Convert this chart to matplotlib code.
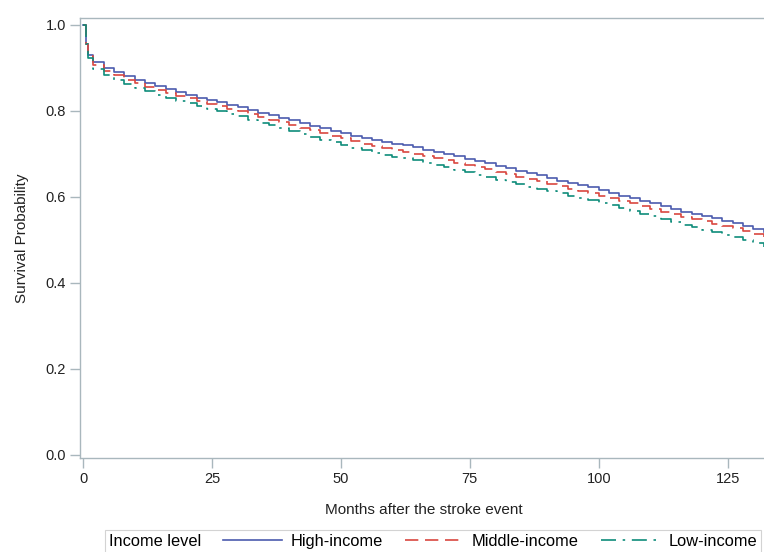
import matplotlib
matplotlib.use('Agg')
import matplotlib.pyplot as plt

plt.rcParams['font.family'] = ['Liberation Sans', 'DejaVu Sans']

# months since stroke event
months = [0, 0.5, 1, 2, 4, 6, 8, 10, 12, 14, 16, 18, 20, 22, 24, 26, 28, 30,
          32, 34, 36, 38, 40, 42, 44, 46, 48, 50, 52, 54, 56, 58, 60, 62, 64,
          66, 68, 70, 72, 74, 76, 78, 80, 82, 84, 86, 88, 90, 92, 94, 96, 98,
          100, 102, 104, 106, 108, 110, 112, 114, 116, 118, 120, 122, 124, 126,
          128, 130, 132]

high_income = [1.000, 0.956, 0.930, 0.913, 0.900, 0.890, 0.880, 0.872, 0.864,
               0.857, 0.850, 0.843, 0.837, 0.831, 0.825, 0.820, 0.814, 0.808,
               0.802, 0.796, 0.790, 0.784, 0.778, 0.772, 0.766, 0.760, 0.754,
               0.748, 0.742, 0.737, 0.732, 0.728, 0.724, 0.720, 0.715, 0.710,
               0.705, 0.700, 0.694, 0.689, 0.684, 0.678, 0.672, 0.667, 0.661,
               0.656, 0.650, 0.644, 0.638, 0.632, 0.627, 0.622, 0.616, 0.610,
               0.603, 0.597, 0.591, 0.585, 0.578, 0.572, 0.566, 0.560, 0.555,
               0.550, 0.545, 0.540, 0.533, 0.526, 0.519]

middle_income = [1.000, 0.956, 0.928, 0.907, 0.893, 0.883, 0.873, 0.864, 0.856,
                 0.849, 0.842, 0.835, 0.829, 0.822, 0.816, 0.811, 0.805, 0.799,
                 0.793, 0.786, 0.780, 0.774, 0.767, 0.761, 0.755, 0.749, 0.742,
                 0.736, 0.730, 0.724, 0.718, 0.713, 0.709, 0.705, 0.700, 0.695,
                 0.690, 0.685, 0.680, 0.675, 0.670, 0.664, 0.658, 0.653, 0.647,
                 0.642, 0.636, 0.630, 0.625, 0.619, 0.614, 0.609, 0.603, 0.597,
                 0.591, 0.585, 0.579, 0.573, 0.566, 0.560, 0.554, 0.548, 0.543,
                 0.538, 0.533, 0.528, 0.521, 0.514, 0.507]

low_income = [1.000, 0.956, 0.922, 0.898, 0.884, 0.873, 0.863, 0.854, 0.846,
              0.838, 0.831, 0.824, 0.818, 0.811, 0.805, 0.800, 0.793, 0.787,
              0.780, 0.773, 0.767, 0.760, 0.753, 0.747, 0.740, 0.733, 0.727,
              0.720, 0.714, 0.708, 0.702, 0.697, 0.693, 0.690, 0.685, 0.680,
              0.674, 0.669, 0.663, 0.657, 0.652, 0.646, 0.640, 0.635, 0.629,
              0.624, 0.618, 0.613, 0.608, 0.603, 0.598, 0.593, 0.587, 0.581,
              0.575, 0.568, 0.561, 0.555, 0.548, 0.542, 0.535, 0.529, 0.523,
              0.518, 0.512, 0.506, 0.499, 0.492, 0.484]

labels = ['High-income', 'Middle-income', 'Low-income']
colors = ['#4B5BAE', '#D9473F', '#0E8C7A']
styles = ['-', (0, (8, 4)), (0, (9, 4, 1.5, 4))]
xticks = [0, 25, 50, 75, 100, 125]
yticks = [0.0, 0.2, 0.4, 0.6, 0.8, 1.0]

frame_color = '#A9B7BD'
text_color = '#222222'

fig = plt.figure(figsize=(7.64, 5.52), dpi=100)
ax = fig.add_axes([0.1047, 0.1703, 0.8990, 0.7971])

series = [high_income, middle_income, low_income]
handles = []
for vals, lab, col, ls in zip(series, labels, colors, styles):
    h, = ax.step(months, vals, where='post', color=col, linestyle=ls,
                 linewidth=1.2, label=lab)
    handles.append(h)

ax.set_xlim(-0.6, 132.6)
ax.set_ylim(-0.007, 1.016)
ax.set_xticks(xticks)
ax.set_yticks(yticks)
ax.set_yticklabels(['%.1f' % v for v in yticks])
for sp in ax.spines.values():
    sp.set_color(frame_color)
    sp.set_linewidth(1.0)
ax.tick_params(axis='both', colors=frame_color, length=7, width=1.0,
               labelsize=10.5, labelcolor=text_color, pad=3)

ax.set_xlabel('Months after the stroke event', fontsize=11, color=text_color,
              labelpad=12)
ax.set_ylabel('Survival Probability', fontsize=11, color=text_color, labelpad=12)

leg = fig.legend(handles=handles, labels=labels, title='Income level',
                 loc='upper left', bbox_to_anchor=(0.137, 0.04),
                 ncol=3, frameon=True, fancybox=False, fontsize=11.8,
                 title_fontsize=11.8, handlelength=3.6, handletextpad=0.5,
                 columnspacing=0.5, borderpad=0.25, borderaxespad=0)
leg.get_frame().set_edgecolor('#C8C8C8')
leg.get_frame().set_linewidth(0.8)
# place the legend title to the left of the entries
box = leg.get_children()[0]
title_box = box.get_children()[0]
entries = box.get_children()[1]
box._children = [entries]
entries._children = [title_box] + entries.get_children()
entries.sep = 16

fig.savefig('out.png', dpi=100)
